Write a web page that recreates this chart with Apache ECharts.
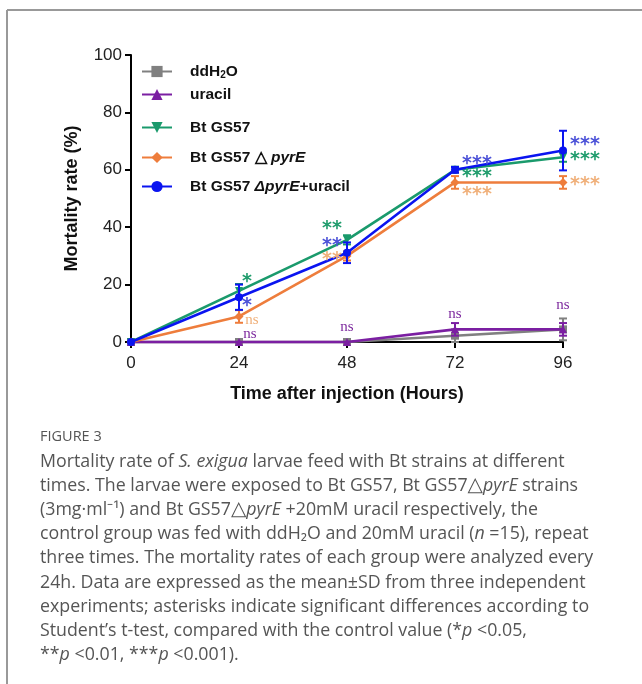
<!DOCTYPE html>
<html><head><meta charset="utf-8">
<script src="https://cdn.jsdelivr.net/npm/echarts@6/dist/echarts.min.js"></script>
<style>html,body{margin:0;padding:0;background:#fff}#c{width:642px;height:684px}</style>
</head><body><div id="c"></div>
<script>
// ---- data ----
const hours = [0, 24, 48, 72, 96];
const xTicks = [0, 24, 48, 72, 96];
const yTicks = [0, 20, 40, 60, 80, 100];
const seriesNames = ['ddH2O', 'uracil', 'Bt GS57', 'Bt GS57 pyrE', 'Bt GS57 pyrE+uracil'];
const ddH2OMean = [0, 0, 0, 2.2, 4.4];
const ddH2OSd   = [0, 0, 0, 2.2, 3.8];
const uracilMean = [0, 0, 0, 4.4, 4.4];
const uracilSd   = [0, 0, 0, 2.2, 2.2];
const gs57Mean = [0, 17.8, 35.6, 60.0, 64.4];
const gs57Sd   = [0, 2.4, 1.6, 1.0, 1.6];
const pyrEMean = [0, 8.9, 30.0, 55.6, 55.6];
const pyrESd   = [0, 2.2, 1.6, 2.2, 2.2];
const pyrEUracilMean = [0, 15.6, 31.1, 60.0, 66.7];
const pyrEUracilSd   = [0, 4.4, 3.6, 1.0, 6.9];
const uracilSig     = ['', 'ns', 'ns', 'ns', 'ns'];
const gs57Sig       = ['', '*', '**', '***', '***'];
const pyrESig       = ['', 'ns', '**', '***', '***'];
const pyrEUracilSig = ['', '*', '**', '***', '***'];
const captionTitle = 'FIGURE 3';
const captionLines = [
  'Mortality rate of {i|S. exigua} larvae feed with Bt strains at different',
  'times. The larvae were exposed to Bt GS57, Bt GS57{t|△}{i|pyrE} strains',
  '(3mg·ml⁻¹) and Bt GS57{t|△}{i|pyrE} +20mM uracil respectively, the',
  'control group was fed with ddH₂O and 20mM uracil ({i|n} =15), repeat',
  'three times. The mortality rates of each group were analyzed every',
  '24h. Data are expressed as the mean±SD from three independent',
  'experiments; asterisks indicate significant differences according to',
  'Student\u2019s t-test, compared with the control value (*{i|p} <0.05,',
  '**{i|p} <0.01, ***{i|p} <0.001).'
];

// ---- styles ----
const colors = ['#808080', '#7b1fa2', '#1a9a6c', '#ee7d3c', '#0a14f0'];
const sigColors = ['#808080', '#7d2a9e', '#1f9c6c', '#f0b07a', '#4c52d8'];
const symbols = ['rect', 'triangle', 'triangle', 'diamond', 'circle'];
const symRot = [0, 0, 180, 0, 0];
const means = [ddH2OMean, uracilMean, gs57Mean, pyrEMean, pyrEUracilMean];
const sds = [ddH2OSd, uracilSd, gs57Sd, pyrESd, pyrEUracilSd];
const sigs = [null, uracilSig, gs57Sig, pyrESig, pyrEUracilSig];
// pixel offsets of significance marks relative to the point [series][timeIndex]
const sigOff = {
  1: [null, [11, -8], [0, -15], [0, -15], [0, -24]],
  2: [null, [8, -12], [-15, -14], [22, 4], [22, 0]],
  3: [null, [13, 4], [-15, 1], [22, 10], [22, 0]],
  4: [null, [8, 6], [-15, -10], [22, -9], [22, -9]]
};

const legendLabels = {
  'ddH2O': '{f|ddH}{s|2}{b|O}',
  'uracil': '{f|uracil}',
  'Bt GS57': '{f|Bt GS57}',
  'Bt GS57 pyrE': '{f|Bt GS57 △ }{bi|pyrE}',
  'Bt GS57 pyrE+uracil': '{f|Bt GS57 }{bi|ΔpyrE}{b|+uracil}'
};
const legendTops = [63, 86, 119, 149, 178];
const LF = 'Liberation Sans, Arial';
const richLegend = {
  f: {fontFamily: LF, fontWeight: 'bold', fontSize: 15.5, color: '#111', padding: [0,0,0,13]},
  b: {fontFamily: LF, fontWeight: 'bold', fontSize: 15.5, color: '#111'},
  bi: {fontFamily: LF, fontWeight: 'bold', fontStyle: 'italic', fontSize: 15.5, color: '#111'},
  s: {fontFamily: LF, fontWeight: 'bold', fontSize: 10, color: '#111', padding: [7,0,0,0]}
};
function legendFmt(name) { return legendLabels[name]; }

const series = [];
seriesNames.forEach(function (nm, k) {
  series.push({
    name: nm, type: 'line', z: 3 + k,
    data: hours.map(function (h, i) { return [h, means[k][i]]; }),
    symbol: symbols[k], symbolRotate: symRot[k], symbolSize: k === 3 ? 9 : 8,
    lineStyle: {color: colors[k], width: 2.6},
    itemStyle: {color: colors[k]},
    clip: false, animation: false
  });
  series.push({
    name: nm, type: 'custom', z: 3 + k, animation: false,
    data: hours.map(function (h, i) { return [h, means[k][i] - sds[k][i], means[k][i] + sds[k][i]]; }),
    renderItem: function (params, api) {
      const x = api.value(0);
      const lo = api.coord([x, api.value(1)]);
      const hi = api.coord([x, api.value(2)]);
      const w = 4;
      if (Math.abs(hi[1] - lo[1]) < 0.5) return null;
      const st = {stroke: colors[k], lineWidth: 2, fill: null};
      return {type: 'group', children: [
        {type: 'line', shape: {x1: lo[0], y1: lo[1], x2: hi[0], y2: hi[1]}, style: st},
        {type: 'line', shape: {x1: lo[0] - w, y1: lo[1], x2: lo[0] + w, y2: lo[1]}, style: st},
        {type: 'line', shape: {x1: hi[0] - w, y1: hi[1], x2: hi[0] + w, y2: hi[1]}, style: st}
      ]};
    }
  });
  if (sigs[k]) {
    series.push({
      name: nm, type: 'custom', z: 10, animation: false,
      data: hours.map(function (h, i) { return [h, means[k][i], i]; }),
      renderItem: function (params, api) {
        const i = api.value(2);
        const txt = sigs[k][i];
        if (!txt) return null;
        const p = api.coord([api.value(0), api.value(1)]);
        const off = sigOff[k][i];
        const isNs = txt === 'ns';
        return {type: 'text', x: p[0] + off[0], y: p[1] + off[1],
          style: {text: txt, fill: sigColors[k], align: 'center', verticalAlign: 'middle',
            font: isNs ? '15px "Liberation Serif", serif' : 'bold 19px "DejaVu Sans", sans-serif',
            y: isNs ? 0 : 3}};
      }
    });
  }
});

const legends = seriesNames.map(function (nm, k) {
  return {data: [nm], left: 141, top: legendTops[k], padding: 0, itemWidth: 30, itemHeight: 14,
    formatter: legendFmt, textStyle: {rich: richLegend, lineHeight: 17}, selectedMode: false};
});

const graphics = [
  {type: 'line', shape: {x1: 7, y1: 10, x2: 642, y2: 10}, style: {stroke: '#999', lineWidth: 2}},
  {type: 'line', shape: {x1: 7, y1: 10, x2: 7, y2: 684}, style: {stroke: '#999', lineWidth: 2}},
  {type: 'text', left: 40, top: 429, style: {text: captionTitle, font: '14.5px "Open Sans", sans-serif', fill: '#555'}}
];
captionLines.forEach(function (ln, i) {
  graphics.push({type: 'text', x: 40, y: 462 + i * 24.1,
    style: {text: ln, font: '17.8px "Open Sans", sans-serif', fill: '#555', verticalAlign: 'middle',
      rich: {i: {fontStyle: 'italic', fontFamily: 'Open Sans', fontSize: 17.8, color: '#555'},
             t: {fontFamily: 'DejaVu Sans', fontSize: 20, color: '#555'}}}});
});

const chart = echarts.init(document.getElementById('c'), null, {renderer: 'canvas'});
chart.setOption({
  backgroundColor: '#fff',
  animation: false,
  grid: {left: 131, right: 79, top: 55, bottom: 342, containLabel: false},
  legend: legends,
  xAxis: {type: 'value', min: xTicks[0], max: xTicks[xTicks.length - 1], interval: 24,
    name: 'Time after injection (Hours)', nameLocation: 'middle', nameGap: 43,
    nameTextStyle: {fontFamily: LF, fontWeight: 'bold', fontSize: 18, color: '#111'},
    axisLine: {lineStyle: {color: '#000', width: 2}},
    axisTick: {length: 6, lineStyle: {color: '#000', width: 2}},
    axisLabel: {fontFamily: LF, fontSize: 17, color: '#222', margin: 13},
    splitLine: {show: false}},
  yAxis: {type: 'value', min: yTicks[0], max: yTicks[yTicks.length - 1], interval: 20,
    name: 'Mortality rate (%)', nameLocation: 'middle', nameGap: 50,
    nameTextStyle: {fontFamily: LF, fontWeight: 'bold', fontSize: 18, color: '#111'},
    axisLine: {show: true, lineStyle: {color: '#000', width: 2}},
    axisTick: {show: true, length: 6, lineStyle: {color: '#000', width: 2}},
    axisLabel: {fontFamily: LF, fontSize: 17, color: '#222', margin: 9},
    splitLine: {show: false}},
  graphic: graphics,
  series: series
});
</script></body></html>
